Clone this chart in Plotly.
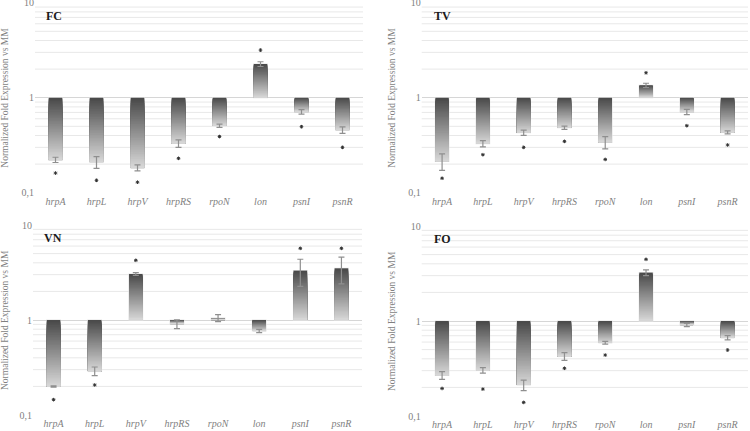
import plotly.graph_objects as go
import numpy as np

genes = ["hrpA", "hrpL", "hrpV", "hrpRS", "rpoN", "lon", "psnI", "psnR"]
panels = ["FC", "TV", "VN", "FO"]

fc_vals = [0.222, 0.21, 0.183, 0.33, 0.507, 2.26, 0.71, 0.457]
fc_err = [0.014, 0.03, 0.013, 0.03, 0.02, 0.13, 0.04, 0.035]
fc_star = [0.161, 0.135, 0.129, 0.23, 0.39, 3.17, 0.495, 0.30]

tv_vals = [0.214, 0.328, 0.428, 0.483, 0.339, 1.35, 0.71, 0.432]
tv_err = [0.042, 0.025, 0.027, 0.02, 0.05, 0.07, 0.045, 0.015]
tv_star = [0.142, 0.251, 0.30, 0.347, 0.224, 1.83, 0.507, 0.318]

vn_vals = [0.20, 0.29, 3.05, 0.908, 1.05, 0.766, 3.31, 3.50]
vn_err = [0.003, 0.03, 0.1, 0.095, 0.09, 0.03, 1.05, 1.1]
vn_star = [0.145, 0.207, 4.25, None, None, None, 5.68, 5.68]

fo_vals = [0.268, 0.303, 0.212, 0.425, 0.591, 3.23, 0.908, 0.668]
fo_err = [0.025, 0.02, 0.027, 0.04, 0.02, 0.22, 0.035, 0.035]
fo_star = [0.195, 0.192, 0.139, 0.318, 0.438, 4.46, None, 0.495]

y_tickvals = [0.1, 1, 10]
y_ticktext = ["0,1", "1", "10"]
minor_vals = [0.2, 0.3, 0.4, 0.5, 0.6, 0.7, 0.8, 0.9, 2, 3, 4, 5, 6, 7, 8, 9]

data = {
    "FC": (fc_vals, fc_err, fc_star),
    "TV": (tv_vals, tv_err, tv_star),
    "VN": (vn_vals, vn_err, vn_star),
    "FO": (fo_vals, fo_err, fo_star),
}

W, H = 750, 431
# plot-area pixel boxes: (x0, x1, y_top(10), y_bottom(0.1))
boxes = {
    "FC": (35, 363, 2.7, 192.7),
    "TV": (421.7, 748, 2.7, 192.7),
    "VN": (33, 362, 225, 415),
    "FO": (421.7, 748, 226, 416),
}
PAD = 0.01  # decades of padding so edge gridlines are drawn

SERIF = "Liberation Serif, DejaVu Serif, serif"
dark = np.array([0x48, 0x48, 0x48])
light = np.array([0xd8, 0xd8, 0xd8])
NSEG = 40

fig = go.Figure()
layout = {}
shapes = []
for idx, p in enumerate(panels):
    n = "" if idx == 0 else str(idx + 1)
    xa, ya = "x" + n, "y" + n
    vals, errs, stars = data[p]
    x0, x1, yt, yb = boxes[p]
    ppd = (yb - yt) / 2.0
    layout["xaxis" + n] = dict(
        domain=[x0 / W, x1 / W], anchor=ya, type="category", automargin=False,
        categoryorder="array", categoryarray=genes, range=[-0.5, 7.5],
        showgrid=False, showline=False, zeroline=False, ticks="", ticklen=0,
        tickfont=dict(family=SERIF, size=10, color="#7f7f7f", style="italic"),
    )
    layout["yaxis" + n] = dict(
        domain=[1 - (yb + PAD * ppd) / H, 1 - (yt - PAD * ppd) / H], anchor=xa,
        type="log", range=[-1 - PAD, 1 + PAD], automargin=False,
        tickvals=y_tickvals, ticktext=y_ticktext, ticks="", ticklabeloverflow="allow",
        showgrid=True, gridcolor="#d6d6d6", gridwidth=1, zeroline=False, showline=False,
        tickfont=dict(family=SERIF, size=10, color="#7f7f7f"),
    )
    # minor gridlines
    for v in minor_vals:
        shapes.append(dict(type="line", xref=xa + " domain", yref=ya, x0=0, x1=1, y0=v, y1=v,
                           line=dict(color="#e8e8e8", width=1), layer="below"))
    # gradient bars: nested layers in log space, top layer is shortest (lightest at bottom)
    logv = np.log10(np.array(vals))
    lo = np.minimum(0, logv)
    hi = np.maximum(0, logv)
    # light outline behind the bar
    fig.add_trace(go.Bar(
        x=genes, y=10 ** hi - 10 ** lo, base=10 ** lo, width=0.33, xaxis=xa, yaxis=ya,
        marker=dict(color="rgba(0,0,0,0)", line=dict(width=1.2, color="#e4e4e4")),
        showlegend=False, hoverinfo="skip",
    ))
    for k in range(NSEG):
        top = lo + (hi - lo) * (NSEG - k) / NSEG
        t = (k + 0.5) / NSEG  # 0 near top (dark) -> 1 at bottom (light)
        c = dark + (light - dark) * t
        col = "rgb(%d,%d,%d)" % tuple(c.round().astype(int))
        base = 10 ** lo
        size = 10 ** top - 10 ** lo
        fig.add_trace(go.Bar(
            x=genes, y=size, base=base, width=0.33, xaxis=xa, yaxis=ya,
            marker=dict(color=col, line=dict(width=0)), showlegend=False, hoverinfo="skip",
        ))
    # error bars
    fig.add_trace(go.Scatter(
        x=genes, y=vals, mode="markers", xaxis=xa, yaxis=ya,
        marker=dict(size=1, color="rgba(0,0,0,0)"),
        error_y=dict(type="data", array=errs, color="#8f8f8f", thickness=1.2, width=3),
        showlegend=False, hoverinfo="skip",
    ))
    # significance asterisks
    sx = [g for g, s in zip(genes, stars) if s is not None]
    sy = [s for s in stars if s is not None]
    fig.add_trace(go.Scatter(
        x=sx, y=sy, mode="markers", xaxis=xa, yaxis=ya,
        marker=dict(symbol="asterisk", size=3, line=dict(width=1, color="#333333")),
        showlegend=False, hoverinfo="skip",
    ))

annotations = []
label_pos = {"FC": (44, 16), "TV": (432, 16), "VN": (42, 238), "FO": (432, 239)}
title_x = {"FC": 5, "TV": 392, "VN": 5, "FO": 392}
for p in panels:
    x0, x1, yt, yb = boxes[p]
    lx, ly = label_pos[p]
    annotations.append(dict(
        x=lx / W, y=1 - ly / H, xref="paper", yref="paper", text="<b>%s</b>" % p,
        showarrow=False, xanchor="left", yanchor="middle",
        font=dict(family=SERIF, size=12, color="#1a1a1a"),
    ))
    annotations.append(dict(
        x=title_x[p] / W, y=1 - ((yt + yb) / 2) / H, xref="paper", yref="paper",
        text="Normalized Fold Expression vs MM", textangle=-90, showarrow=False,
        xanchor="center", yanchor="middle",
        font=dict(family=SERIF, size=9.5, color="#7f7f7f"),
    ))

fig.update_layout(
    width=W, height=H, margin=dict(l=0, r=0, t=0, b=0, autoexpand=False),
    paper_bgcolor="white", plot_bgcolor="white", barmode="overlay",
    annotations=annotations, shapes=shapes, showlegend=False, **layout,
)
fig.write_html("out.html", config={"displayModeBar": False},
               post_script="document.body.style.margin='0';")
